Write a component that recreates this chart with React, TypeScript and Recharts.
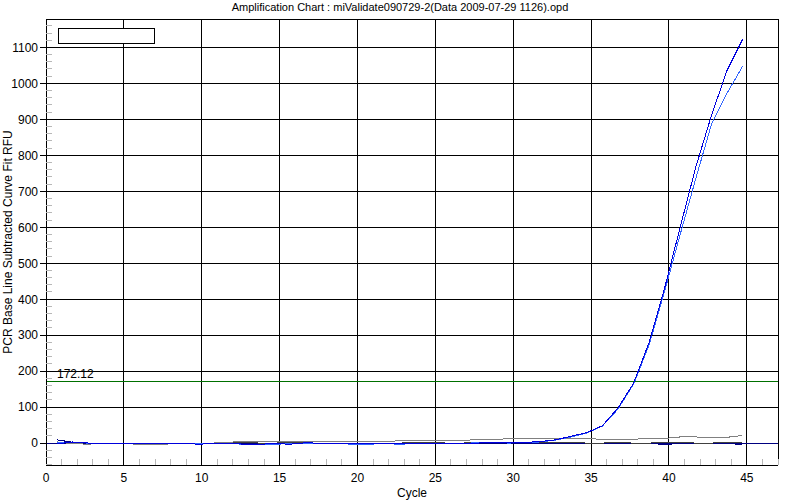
import React from 'react';
import {
  LineChart,
  Line,
  XAxis,
  YAxis,
  CartesianGrid,
  ReferenceLine,
  Legend,
} from 'recharts';

const title = 'Amplification Chart : miValidate090729-2(Data 2009-07-29 1126).opd';
const xTitle = 'Cycle';
const yTitle = 'PCR Base Line Subtracted Curve Fit RFU';

const cycles = [
  1, 2, 3, 4, 5, 6, 7, 8, 9, 10, 11, 12, 13, 14, 15, 16, 17, 18, 19, 20, 21, 22, 23,
  24, 25, 26, 27, 28, 29, 30, 31, 32, 33, 34, 35, 36, 37, 38, 39, 40, 41, 42, 43, 44, 45,
];

const wellA = [
  -2, 3, 0, 0, 0, -1, -2, -2, -1, -3,
  -2, -1, -3, -3, -2, -3, 1, -1, -1, -2,
  -2, -2, -2, -2, -1, -1, -2, 0, 2, 1,
  2, 4, 9, 19, 29, 48, 97, 166, 279, 431,
  600, 767, 910, 1035, 1122,
];
const wellB = [
  2, 1, 0, -1, 0, -1, -1, -1, -2, -2,
  -1, -2, -3, -3, -3, -2, 0, -1, -2, -3,
  -3, -2, -3, -2, -2, -1, -1, 1, 1, 0,
  1, 3, 8, 17, 28, 47, 94, 163, 272, 422,
  580, 735, 885, 972, 1047,
];
const wellC = [
  3, -2, -3, -1, 0, -3, -3, -3, 0, 0,
  0, 2, 5, 5, 3, 5, 5, 4, 4, 5,
  5, 5, 6, 7, 6, 8, 8, 9, 10, 12,
  13, 13, 13, 14, 13, 10, 11, 11, 12, 13,
  17, 17, 15, 16, 21,
];
const wellD = [
  2, 1, 0, -1, -1, -2, -2, -2, -1, 0,
  0, 1, 1, 0, 0, 1, 0, 0, -1, -1,
  0, 0, 0, 1, 1, 0, 0, 1, 1, 1,
  2, 2, 1, 1, 0, 0, 1, 0, 0, 1,
  1, 0, 0, 1, 1,
];
const wellE = [
  9, 2, 0, 0, 0, 0, 0, 0, 0, -1,
  0, 0, 0, 0, 0, 0, 0, 0, 0, 0,
  0, 0, 0, 0, 0, 0, 0, 0, 0, 0,
  0, 0, 0, 0, 0, 0, 0, 0, -1, -4,
  -1, 0, 0, -1, -4,
];

const threshold = 172.12;

const xMajor = [0, 5, 10, 15, 20, 25, 30, 35, 40, 45];
const yMajor = [0, 100, 200, 300, 400, 500, 600, 700, 800, 900, 1000, 1100];

// the instrument plots each read a little before the cycle number
const CYCLE_SHIFT = 0.28;
const X_MAX = 47;
const Y_MIN = -61;
const Y_MAX = 1179;

const xTicks = Array.from({ length: X_MAX + 1 }, (_, i) => i);
const yTicks = Array.from({ length: 62 }, (_, i) => -60 + i * 20);

const data = cycles.map((c, i) => ({
  x: c - CYCLE_SHIFT,
  a: wellA[i],
  b: wellB[i],
  c: wellC[i],
  d: wellD[i],
  e: wellE[i],
}));

const font = '"Liberation Sans", Arial, sans-serif';

const XTick = (props: any) => {
  const { x, y, payload } = props;
  const v = payload.value;
  if (xMajor.includes(v)) {
    return (
      <text x={x} y={y} dy="0.71em" textAnchor="middle" fontSize={12} fill="#000" fontFamily={font}>
        {v}
      </text>
    );
  }
  if (v === 0) return <g />;
  return <line x1={x} x2={x} y1={y - 14} y2={y - 8} stroke="#b8b8b8" />;
};

const YTick = (props: any) => {
  const { x, y, payload } = props;
  const v = payload.value;
  if (yMajor.includes(v)) {
    return (
      <g>
        <line x1={x - 6} x2={x} y1={y} y2={y} stroke="#000" />
        <text x={x - 8} y={y} dy="0.36em" textAnchor="end" fontSize={12} fill="#000" fontFamily={font}>
          {v}
        </text>
      </g>
    );
  }
  return <line x1={x} x2={x + 6} y1={y} y2={y} stroke="#b8b8b8" />;
};

const ThresholdLabel = (props: any) => {
  const vb = props.viewBox || {};
  return (
    <text x={vb.x + 11} y={vb.y - 3} fontSize={12} fill="#000" fontFamily={font}>
      {threshold}
    </text>
  );
};

const EmptyLegend = () => (
  <div style={{ width: 95, height: 14, border: '1px solid #000', background: '#fff' }} />
);

export default function App() {
  return (
    <div
      style={{
        position: 'absolute',
        left: 0,
        top: 0,
        width: 800,
        height: 500,
        background: '#fff',
        fontFamily: font,
        shapeRendering: 'crispEdges',
      }}
    >
      <div
        style={{
          position: 'absolute',
          top: 0,
          left: 0,
          width: 800,
          textAlign: 'center',
          fontSize: 11,
          lineHeight: '14px',
        }}
      >
        {title}
      </div>
      <LineChart
        width={800}
        height={500}
        data={data}
        margin={{ top: 19, right: 22, bottom: 5, left: 0 }}
      >
        <CartesianGrid
          stroke="#000"
          strokeOpacity={1}
          horizontalValues={[...yMajor, Y_MAX]}
          verticalValues={[...xMajor.slice(1), X_MAX]}
        />
        <XAxis
          type="number"
          dataKey="x"
          domain={[0, X_MAX]}
          ticks={xTicks}
          interval={0}
          height={30}
          tickSize={0}
          tickMargin={8}
          tickLine={false}
          axisLine={{ stroke: '#000' }}
          tick={<XTick />}
          allowDataOverflow
        />
        <YAxis
          type="number"
          domain={[Y_MIN, Y_MAX]}
          ticks={yTicks}
          interval={0}
          width={46}
          tickSize={0}
          tickMargin={0}
          tickLine={false}
          axisLine={{ stroke: '#000' }}
          tick={<YTick />}
          allowDataOverflow
        />
        <ReferenceLine y={0} stroke="#000080" />
        <ReferenceLine y={threshold} stroke="#007000" label={<ThresholdLabel />} />
        <Legend
          layout="horizontal"
          verticalAlign="middle"
          align="center"
          wrapperStyle={{ top: 28, left: 58, width: 97, height: 16 }}
          content={<EmptyLegend />}
        />
        <Line type="linear" dataKey="e" stroke="#000080" dot={false} isAnimationActive={false} legendType="none" />
        <Line type="linear" dataKey="d" stroke="#404040" dot={false} isAnimationActive={false} legendType="none" />
        <Line type="linear" dataKey="c" stroke="#808080" dot={false} isAnimationActive={false} legendType="none" />
        <Line type="linear" dataKey="b" stroke="#3366ff" dot={false} isAnimationActive={false} legendType="none" />
        <Line type="linear" dataKey="a" stroke="#0000dd" dot={false} isAnimationActive={false} legendType="none" />
      </LineChart>
      <div
        style={{
          position: 'absolute',
          left: 412,
          top: 487,
          transform: 'translateX(-50%)',
          fontSize: 12,
          lineHeight: '12px',
          whiteSpace: 'nowrap',
        }}
      >
        {xTitle}
      </div>
      <div
        style={{
          position: 'absolute',
          left: 8,
          top: 242,
          transform: 'translate(-50%, -50%) rotate(-90deg)',
          fontSize: 12,
          lineHeight: '12px',
          whiteSpace: 'nowrap',
        }}
      >
        {yTitle}
      </div>
    </div>
  );
}
